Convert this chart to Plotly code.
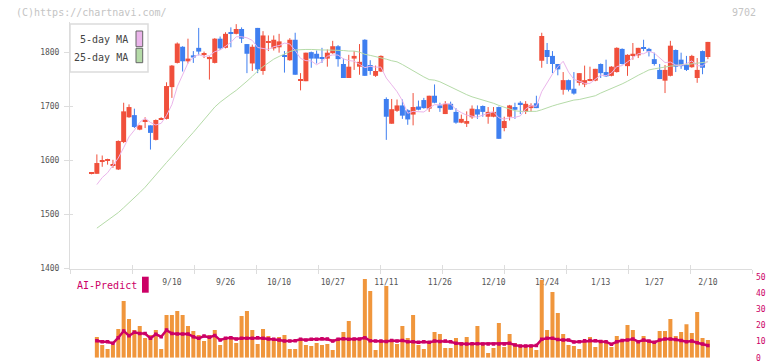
import plotly.graph_objects as go

W, H = 772, 361

# ---------------- data ----------------
date_tick_labels = ['9/10', '9/26', '10/10', '10/27', '11/11', '11/26',
                    '12/10', '12/24', '1/13', '1/27', '2/10']
date_tick_index = [16, 26, 36, 46, 56, 66, 76, 86, 96, 106, 116]

opens = [1575, 1575, 1597, 1599, 1590, 1583, 1634, 1680, 1684, 1657,
         1673, 1665, 1638, 1676, 1677, 1736, 1781, 1811, 1784, 1795,
         1809, 1796, 1788, 1781, 1826, 1809, 1837, 1835, 1844, 1816,
         1780, 1846, 1766, 1819, 1808, 1810, 1794, 1786, 1824, 1749,
         1747, 1801, 1798, 1790, 1789, 1799, 1812, 1779, 1753, 1789,
         1774, 1824, 1777, 1757, 1765, 1714, 1668, 1692, 1702, 1693,
         1685, 1700, 1712, 1696, 1720, 1702, 1686, 1705, 1690, 1670,
         1668, 1680, 1695, 1701, 1681, 1681, 1699, 1660, 1681, 1699,
         1707, 1690, 1697, 1706, 1785, 1805, 1794, 1779, 1731, 1749,
         1733, 1744, 1741, 1748, 1748, 1779, 1764, 1757, 1764, 1807,
         1775, 1795, 1795, 1809, 1807, 1788, 1768, 1748, 1757, 1805,
         1787, 1777, 1773, 1753, 1803, 1792]

closes = [1575, 1595, 1599, 1600, 1592, 1636, 1691, 1699, 1662, 1665,
          1675, 1651, 1675, 1678, 1738, 1776, 1817, 1784, 1789, 1791,
          1802, 1798, 1792, 1826, 1808, 1835, 1835, 1844, 1826, 1798,
          1811, 1769, 1832, 1820, 1824, 1821, 1792, 1824, 1759, 1751,
          1800, 1789, 1789, 1789, 1800, 1812, 1788, 1753, 1774, 1794,
          1783, 1757, 1766, 1766, 1794, 1681, 1695, 1702, 1683, 1676,
          1699, 1694, 1697, 1720, 1707, 1697, 1705, 1694, 1670, 1677,
          1673, 1696, 1685, 1690, 1690, 1690, 1640, 1673, 1702, 1694,
          1704, 1705, 1702, 1697, 1831, 1792, 1779, 1769, 1749, 1731,
          1724, 1762, 1749, 1749, 1770, 1762, 1756, 1774, 1809, 1779,
          1796, 1798, 1809, 1808, 1802, 1779, 1751, 1768, 1813, 1774,
          1775, 1768, 1794, 1768, 1772, 1820]

highs = [1576, 1611, 1609, 1603, 1601, 1637, 1707, 1704, 1696, 1666,
         1680, 1665, 1676, 1680, 1745, 1777, 1819, 1812, 1826, 1803,
         1846, 1802, 1793, 1827, 1830, 1838, 1847, 1853, 1847, 1816,
         1815, 1846, 1840, 1832, 1832, 1835, 1803, 1827, 1837, 1762,
         1800, 1802, 1804, 1809, 1806, 1822, 1814, 1789, 1796, 1803,
         1816, 1825, 1786, 1776, 1795, 1717, 1714, 1713, 1713, 1695,
         1725, 1711, 1716, 1720, 1741, 1707, 1710, 1709, 1697, 1685,
         1691, 1702, 1702, 1702, 1699, 1699, 1700, 1681, 1703, 1707,
         1710, 1710, 1706, 1720, 1837, 1818, 1803, 1779, 1764, 1750,
         1764, 1762, 1776, 1774, 1770, 1780, 1787, 1775, 1810, 1808,
         1797, 1818, 1809, 1824, 1809, 1800, 1779, 1777, 1822, 1806,
         1800, 1794, 1796, 1790, 1804, 1820]

lows = [1574, 1575, 1588, 1592, 1586, 1582, 1632, 1679, 1660, 1656,
        1660, 1620, 1637, 1675, 1676, 1716, 1780, 1765, 1780, 1781,
        1795, 1790, 1750, 1780, 1805, 1808, 1810, 1834, 1818, 1762,
        1766, 1762, 1759, 1803, 1804, 1800, 1763, 1785, 1759, 1730,
        1747, 1772, 1780, 1781, 1774, 1798, 1774, 1753, 1753, 1768,
        1759, 1757, 1759, 1755, 1764, 1638, 1668, 1690, 1677, 1666,
        1665, 1693, 1696, 1690, 1706, 1690, 1686, 1694, 1668, 1669,
        1662, 1677, 1677, 1681, 1668, 1680, 1640, 1654, 1674, 1677,
        1686, 1686, 1690, 1697, 1772, 1779, 1762, 1758, 1722, 1728,
        1722, 1739, 1736, 1747, 1747, 1753, 1755, 1756, 1763, 1778,
        1757, 1787, 1790, 1803, 1793, 1776, 1751, 1725, 1756, 1764,
        1770, 1766, 1772, 1744, 1760, 1788]

ma5 = [None, 1555, 1568, 1577, 1590, 1604.4, 1623.6, 1643.6, 1656, 1670.6,
       1678.4, 1670.4, 1665.6, 1668.8, 1683.4, 1703.6, 1736.8, 1758.6, 1780.8, 1791.4,
       1796.6, 1792.8, 1794.4, 1801.8, 1805.2, 1811.8, 1819.2, 1829.6, 1829.6, 1827.6,
       1822.8, 1809.6, 1807.2, 1806, 1811.2, 1813.2, 1817.8, 1816.2, 1804, 1789.4,
       1785.2, 1784.6, 1777.6, 1783.6, 1793.4, 1795.8, 1795.6, 1788.4, 1785.4, 1784.2,
       1778.4, 1772.2, 1774.8, 1773.2, 1773.2, 1752.8, 1740.4, 1727.6, 1711, 1687.4,
       1691, 1690.8, 1689.8, 1697.2, 1703.4, 1703, 1705.2, 1704.6, 1694.6, 1688.6,
       1683.8, 1682, 1680.2, 1684.2, 1686.8, 1690.2, 1679, 1676.6, 1679, 1679.8,
       1682.6, 1695.6, 1701.4, 1700.4, 1727.8, 1745.4, 1760.2, 1773.6, 1784, 1764,
       1750.4, 1747, 1743, 1743, 1750.8, 1758.4, 1757.2, 1762.2, 1774.2, 1776,
       1782.8, 1791.2, 1798.2, 1798, 1802.6, 1799.2, 1789.8, 1781.6, 1782.6, 1777,
       1776.2, 1779.6, 1784.8, 1775.8, 1775.4, 1784.4]

ma25 = [None, 1474, 1481, 1488, 1496, 1503, 1512, 1521, 1530, 1540,
        1550, 1562, 1573, 1584, 1596, 1607, 1619, 1630, 1641, 1652,
        1664, 1676, 1688, 1699, 1708, 1716, 1723, 1730, 1738, 1747,
        1756, 1766, 1774, 1781, 1788, 1793, 1798, 1802, 1805, 1806,
        1806, 1806, 1805, 1805, 1805, 1805, 1804, 1804, 1803, 1803,
        1801, 1797, 1795, 1793, 1791, 1788, 1785, 1783, 1778, 1772,
        1766, 1761, 1755, 1750, 1749, 1746, 1741, 1736, 1731, 1726,
        1722, 1718, 1715, 1712, 1710, 1706, 1702, 1699, 1695, 1692,
        1691, 1691, 1691, 1691, 1694, 1698, 1701, 1704, 1707, 1710,
        1712, 1713, 1715, 1717, 1720, 1725, 1729, 1733, 1737, 1742,
        1747, 1753, 1758, 1763, 1768, 1770, 1772, 1773, 1775, 1776,
        1778, 1778, 1779, 1780, 1782, 1783]

ai_volume = [None, 12.8, 7.8, 5.4, 7.8, 17.8, 35.1, 24, 17.1, 19.6,
             12.2, 14, 17.1, 5.4, 26.4, 26.4, 28.9, 26.4, 19.6, 16.5,
             14, 10.3, 14, 17.1, 7.8, 11.6, 12.8, 9.1, 25.8, 28.9,
             17.1, 8.5, 17.8, 13.4, 10.3, 12.8, 14, 5.4, 5.4, 10.9,
             7.8, 7.2, 9.1, 7.8, 8.5, 4.8, 10.9, 15.9, 22.7, 10.9,
             10.9, 48.7, 41.3, 4.8, 9.7, 44.4, 10.3, 8.5, 19.6, 12.2,
             26.4, 7.8, 5.4, 10.3, 15.9, 14.7, 6, 6, 12.2, 9.7,
             12.8, 8.5, 19.6, 8.5, 2.9, 6, 21.5, 6.6, 14.7, 9.1,
             6.6, 6.6, 7.8, 4.8, 48.1, 17.1, 40.7, 27.7, 14.7, 7.8,
             7.2, 5.4, 10.3, 12.8, 6.6, 10.9, 9.1, 6.6, 13.4, 10.9,
             20.2, 17.1, 10.9, 13.4, 10.9, 9.7, 16.5, 16.5, 24, 13.4,
             15.9, 20.8, 15.3, 28.3, 12.2, 10.9]

ai_predict = [None, 10.5, 9.9, 9.9, 8.9, 12.4, 16.5, 13.6, 15.7, 15,
              15, 12, 14.5, 13, 17.1, 15, 14.7, 14.7, 14.7, 13,
              12, 13.4, 12.6, 13.8, 10.9, 12, 12.4, 11.6, 12, 12,
              12, 12.4, 12, 11.6, 11.4, 10.9, 10.3, 10.3, 10.5, 11.4,
              10.9, 11.4, 11.4, 11.8, 11.6, 10.3, 11.4, 11.8, 11.4, 11.6,
              11.6, 12.4, 10.5, 10.3, 10.3, 10.1, 10.7, 10.3, 10.7, 9.9,
              9.9, 9.5, 9.9, 9.5, 10.3, 10.1, 10.3, 9.9, 8.9, 8.5,
              8.5, 8.7, 8.7, 8.5, 8.5, 8.5, 8.5, 8.5, 8.9, 7.8,
              7.2, 7.2, 7.2, 7.6, 11.4, 12, 12, 11.2, 10.9, 10.9,
              9.7, 9.9, 10.5, 10.7, 10.5, 10.1, 9.9, 8.3, 9.9, 10.7,
              10.9, 11.6, 9.9, 10.9, 10.3, 9.5, 10.9, 11.6, 11.6, 11.2,
              10.7, 9.9, 10.3, 9.3, 8.5, 7.6]

price_ticks = [1400, 1500, 1600, 1700, 1800]
ai_ticks = [0, 10, 20, 30, 40, 50]

# ---------------- styling ----------------
UP = '#f0503c'
DOWN = '#3f7ff0'
MA5_COLOR = '#ebb5eb'
MA25_COLOR = '#b5dba8'
AI_COLOR = '#cc0066'
VOL_COLOR = '#f0963c'
AXIS_COLOR = '#dddddd'
TXT = '#555555'
MONO = 'DejaVu Sans Mono'


def px(x):
    return x / W


def py(y):
    return 1 - y / H


n = len(closes)
idx = list(range(1, n + 1))
up = [c >= o for o, c in zip(opens, closes)]

fig = go.Figure()

# wicks
for flag, col in ((True, UP), (False, DOWN)):
    wx, wy = [], []
    for i in range(n):
        if up[i] == flag:
            wx += [idx[i], idx[i], None]
            wy += [lows[i], highs[i], None]
    fig.add_trace(go.Scatter(x=wx, y=wy, mode='lines',
                             line=dict(color=col, width=1),
                             hoverinfo='skip', showlegend=False))

# bodies
body_base = [min(o, c) for o, c in zip(opens, closes)]
body_h = [max(abs(c - o), 1.8) for o, c in zip(opens, closes)]
fig.add_trace(go.Bar(x=idx, y=body_h, base=body_base, width=0.93,
                     marker=dict(color=[UP if u else DOWN for u in up], line=dict(width=0)),
                     showlegend=False, hoverinfo='skip'))

# moving averages
fig.add_trace(go.Scatter(x=idx, y=ma25, mode='lines',
                         line=dict(color=MA25_COLOR, width=1), showlegend=False))
fig.add_trace(go.Scatter(x=idx, y=ma5, mode='lines',
                         line=dict(color=MA5_COLOR, width=1), showlegend=False))

# AI predict panel
fig.add_trace(go.Bar(x=idx, y=ai_volume, width=0.75, yaxis='y2',
                     marker=dict(color=VOL_COLOR, line=dict(width=0)),
                     showlegend=False))
fig.add_trace(go.Scatter(x=idx, y=ai_predict, yaxis='y2', mode='lines+markers',
                         line=dict(color=AI_COLOR, width=2.5),
                         marker=dict(symbol='square', size=3.5, color=AI_COLOR),
                         showlegend=False))

# axis geometry
x_dom = [px(70), px(752)]
k_left = 1 + (70 - 91.5) / 5.36
k_right = 1 + (752 - 91.5) / 5.36
ppu = 53.83 / 100.0
y_bot_px, y_top_px = 269, 22
y_lo = 1400 - (y_bot_px - 268) / ppu
y_hi = 1400 + (268 - y_top_px) / ppu

fig.update_layout(
    width=W, height=H, autosize=False,
    margin=dict(l=0, r=0, t=0, b=0, pad=0),
    paper_bgcolor='white', plot_bgcolor='white',
    barmode='overlay',
    showlegend=False,
    font=dict(family=MONO, size=8, color=TXT),
    xaxis=dict(domain=x_dom, range=[k_left, k_right], anchor='y', automargin=False,
               tickmode='array', tickvals=date_tick_index, ticktext=date_tick_labels,
               ticks='outside', ticklen=5, tickcolor='rgba(0,0,0,0)',
               tickfont=dict(family=MONO, size=8, color=TXT),
               showgrid=False, zeroline=False, showline=False),
    xaxis3=dict(domain=x_dom, range=[0, 11], overlaying='x', anchor='y', automargin=False,
                tickmode='linear', tick0=0, dtick=1, ticks='outside', ticklen=4,
                tickcolor=AXIS_COLOR, showticklabels=False, showgrid=False,
                zeroline=False, showline=True, linecolor=AXIS_COLOR, linewidth=1),
    xaxis4=dict(domain=x_dom, range=[0, 11], overlaying='x', anchor='y', automargin=False,
                tickmode='linear', tick0=0, dtick=1, ticks='inside', ticklen=4,
                tickcolor=AXIS_COLOR, showticklabels=False, showgrid=False,
                zeroline=False, showline=False),
    yaxis=dict(domain=[py(y_bot_px), py(y_top_px)], range=[y_lo, y_hi], anchor='x',
               automargin=False, tickmode='array', tickvals=price_ticks,
               ticks='outside', ticklen=5, tickcolor=AXIS_COLOR,
               ticklabelstandoff=3,
               tickfont=dict(family=MONO, size=8, color=TXT),
               showgrid=False, zeroline=False, showline=True,
               linecolor=AXIS_COLOR, linewidth=1),
    yaxis3=dict(domain=[py(y_bot_px), py(y_top_px)], range=[y_lo, y_hi], anchor='x',
                automargin=False, overlaying='y', tickmode='array', tickvals=price_ticks,
                ticks='inside', ticklen=3, tickcolor=AXIS_COLOR,
                showticklabels=False, showgrid=False, zeroline=False, showline=False),
    yaxis2=dict(domain=[(H - 357.7) / H, (H - 277) / H], range=[0, 50],
                anchor='x', side='right', automargin=False,
                tickmode='array', tickvals=ai_ticks, ticklabeloverflow='allow',
                ticks='', ticklabelstandoff=3,
                tickfont=dict(family=MONO, size=8, color=AI_COLOR),
                showgrid=False, zeroline=False, showline=False),
)

# dummy traces so the overlay axes render
fig.add_trace(go.Scatter(x=[None], y=[None], xaxis='x3', yaxis='y', showlegend=False))
fig.add_trace(go.Scatter(x=[None], y=[None], xaxis='x4', yaxis='y3', showlegend=False))

shapes = []
annotations = []

# top legend box
shapes.append(dict(type='rect', xref='paper', yref='paper',
                   x0=px(70), x1=px(148), y0=py(72), y1=py(24),
                   line=dict(color='#dcdcdc', width=1.5), fillcolor='white', layer='above'))
shapes.append(dict(type='rect', xref='paper', yref='paper',
                   x0=px(136), x1=px(142.7), y0=py(46.7), y1=py(31),
                   line=dict(color='#666666', width=1), fillcolor=MA5_COLOR))
shapes.append(dict(type='rect', xref='paper', yref='paper',
                   x0=px(136), x1=px(142.7), y0=py(62.7), y1=py(48.3),
                   line=dict(color='#666666', width=1), fillcolor=MA25_COLOR))
annotations.append(dict(text='5-day MA', xref='paper', yref='paper', x=px(130), y=py(39.5),
                        xanchor='right', yanchor='middle', showarrow=False,
                        font=dict(family=MONO, size=10, color='#444444')))
annotations.append(dict(text='25-day MA', xref='paper', yref='paper', x=px(130), y=py(57),
                        xanchor='right', yanchor='middle', showarrow=False,
                        font=dict(family=MONO, size=10, color='#444444')))

# watermark & code
annotations.append(dict(text='(C)https://chartnavi.com/', xref='paper', yref='paper',
                        x=px(14), y=py(12.5), xanchor='left', yanchor='middle', showarrow=False,
                        font=dict(family=MONO, size=10, color='#c4c4c4')))
annotations.append(dict(text='9702', xref='paper', yref='paper',
                        x=px(758), y=py(12.5), xanchor='right', yanchor='middle', showarrow=False,
                        font=dict(family=MONO, size=10, color='#c4c4c4')))

# AI-Predict label
annotations.append(dict(text='AI-Predict', xref='paper', yref='paper',
                        x=px(75), y=py(285.5), xanchor='left', yanchor='middle', showarrow=False,
                        font=dict(family=MONO, size=10, color=AI_COLOR)))
shapes.append(dict(type='rect', xref='paper', yref='paper',
                   x0=px(142), x1=px(148.7), y0=py(292.7), y1=py(276.7),
                   line=dict(width=0), fillcolor=AI_COLOR))

fig.update_layout(shapes=shapes, annotations=annotations)

fig.write_html('out.html',
               config={'responsive': False, 'displayModeBar': False},
               post_script="document.body.style.margin='0px';document.body.style.overflow='hidden';")
